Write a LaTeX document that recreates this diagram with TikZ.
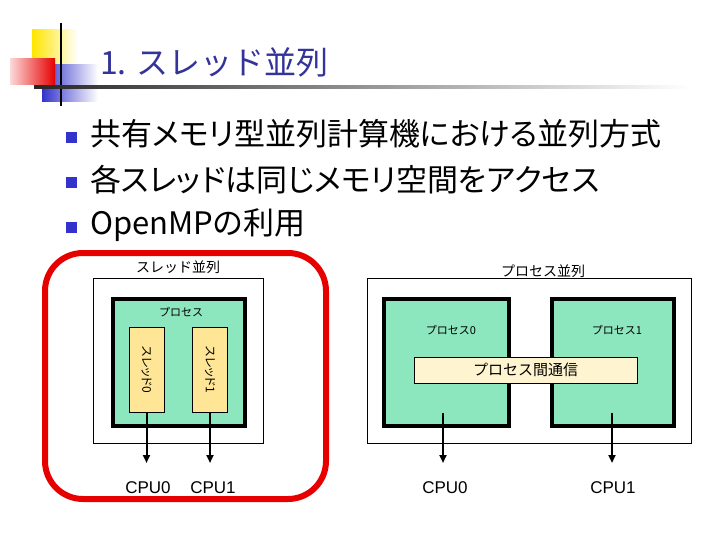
\documentclass[tikz,border=0pt]{standalone}
\usepackage{fontspec}
\setmainfont{Noto Sans CJK JP}
\newfontfamily\itemfont[RawFeature=+palt]{Noto Sans CJK JP}
\newfontfamily\cpufont{Liberation Sans}
\usetikzlibrary{arrows.meta, positioning}
\definecolor{titleblue}{RGB}{51,51,153}
\definecolor{bulletblue}{RGB}{51,51,204}
\definecolor{procgreen}{RGB}{140,230,190}
\definecolor{threadyellow}{RGB}{255,230,150}
\definecolor{commcream}{RGB}{255,244,208}
\definecolor{ringred}{RGB}{230,0,0}
\begin{document}
\begin{tikzpicture}[
			x=1pt, y=-1pt,
			outerbox/.style={rectangle, draw, line width=0.8pt, fill=white},
			proc/.style={rectangle, draw, line width=3.5pt, fill=procgreen},
			thread/.style={rectangle, draw, line width=0.8pt, fill=threadyellow, rotate=-90, font=\itemfont\fontsize{12}{14}\selectfont},
			lbl/.style={inner sep=1pt, font=\fontsize{11}{13}\selectfont},
			head/.style={inner sep=1pt, font=\fontsize{14}{16}\selectfont},
			cpu/.style={inner sep=1pt, font=\cpufont\fontsize{17}{19}\selectfont},
			bullet/.style={rectangle, fill=bulletblue, minimum size=11pt, inner sep=0pt},
			item/.style={anchor=west, inner sep=0pt, font=\itemfont\fontsize{31}{35}\selectfont},
			arr/.style={-{Triangle[length=8pt,width=7pt]}, line width=2pt}
			]
			\useasboundingbox (0,0) rectangle (720,540);
			\shade[left color=yellow!80!orange, right color=white] (32,30) rectangle (78,70);
			\shade[left color=bulletblue, right color=white] (42,65) rectangle (98,102);
			\shade[left color=ringred!15, right color=ringred] (10,59) rectangle (55,85);
			\draw[line width=2pt] (61,23) -- (61,106);
			\shade[left color=black!85, right color=white] (34,85.5) rectangle (690,88.5);
			\node[anchor=west, inner sep=0pt, text=titleblue, font=\fontsize{32}{38}\selectfont] (title) at (100,62) {1. スレッド並列};
			\node[bullet] (b1) at (71.5,137.5) {};
			\node[bullet] (b2) at (71.5,182.5) {};
			\node[bullet] (b3) at (71.5,227.5) {};
			\node[item] (i1) at (90,134) {共有メモリ型並列計算機における並列方式};
			\node[item] (i2) at (90,180) {各スレッドは同じメモリ空間をアクセス};
			\node[item] (i3) at (90,225) {OpenMPの利用};
			\node[outerbox, minimum width=170pt, minimum height=165pt] (tframe) at (178,360.5) {};
			\node[head, above=3pt of tframe] (thead) {スレッド並列};
			\node[proc, minimum width=132pt, minimum height=127pt] (tproc) at (179,362.5) {};
			\node[lbl] (tproclbl) at (181,312) {プロセス};
			\node[thread, minimum width=85pt, minimum height=35pt] (t0) at (146.5,369.5) {スレッド0};
			\node[thread, minimum width=85pt, minimum height=35pt] (t1) at (210,369.5) {スレッド1};
			\node[cpu] (tcpu0) at (148,488) {CPU0};
			\node[cpu] (tcpu1) at (213,488) {CPU1};
			\coordinate (tend0) at (146.5,463);
			\coordinate (tend1) at (210,463);
			\node[outerbox, minimum width=324pt, minimum height=165pt] (pframe) at (529,360.5) {};
			\node[head] (phead) at (543,271) {プロセス並列};
			\node[proc, minimum width=125pt, minimum height=127pt] (p0) at (446.5,362.5) {};
			\node[proc, minimum width=122pt, minimum height=127pt] (p1) at (613,362.5) {};
			\node[lbl] (p0lbl) at (451,330) {プロセス0};
			\node[lbl] (p1lbl) at (617,330) {プロセス1};
			\node[rectangle, draw, line width=0.8pt, fill=commcream, minimum width=223pt, minimum height=26pt, font=\fontsize{15}{17}\selectfont] (comm) at (525.5,370) {プロセス間通信};
			\coordinate (pstart0) at (443,413);
			\coordinate (pstart1) at (612,413);
			\coordinate (pend0) at (443,463);
			\coordinate (pend1) at (612,463);
			\node[cpu] (pcpu0) at (445,488) {CPU0};
			\node[cpu] (pcpu1) at (613,488) {CPU1};
			\draw[arr] (t0.east) -- (tend0);
			\draw[arr] (t1.east) -- (tend1);
			\draw[arr] (pstart0) -- (pend0);
			\draw[arr] (pstart1) -- (pend1);
			\draw[ringred, line width=6pt, rounded corners=38pt] (45,253) rectangle (326,499);
		\end{tikzpicture}
\end{document}
